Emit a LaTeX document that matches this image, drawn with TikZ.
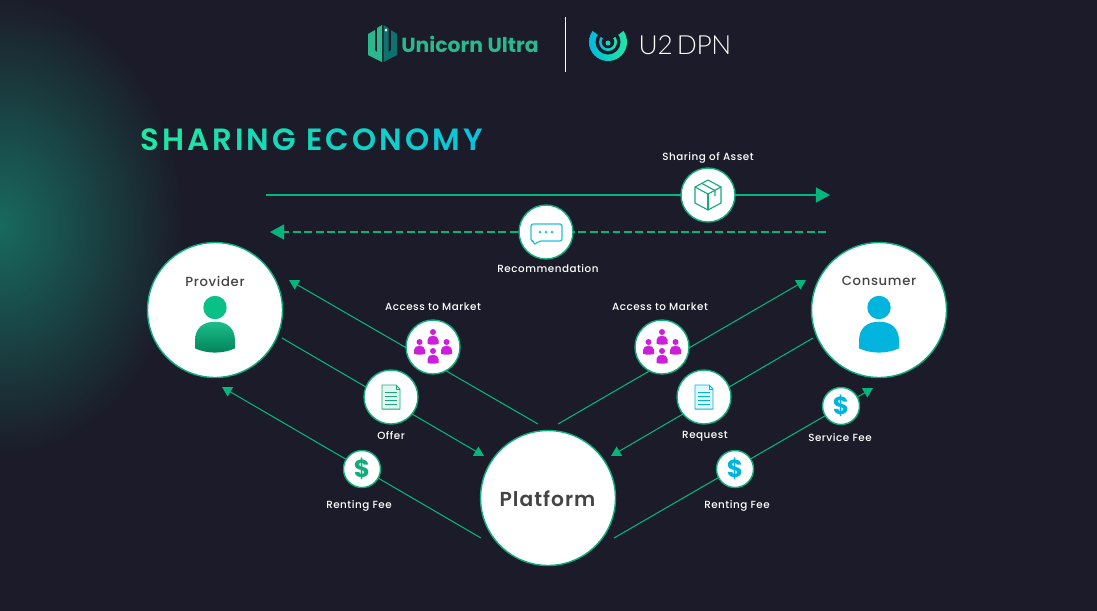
\documentclass[tikz,border=0pt]{standalone}
\usepackage{fontspec}
\usetikzlibrary{arrows.meta}
\setmainfont[LetterSpace=5,BoldFont={Poppins SemiBold}]{Poppins Medium}
\newfontfamily\titlefont{Poppins SemiBold}
\newfontfamily\thinfont[LetterSpace=-1.5]{Lato Light}
\newfontfamily\logofont{Poppins}

\definecolor{bgdark}{HTML}{1B1B29}
\definecolor{glowteal}{HTML}{186A5E}
\definecolor{flowgreen}{HTML}{03B77C}
\definecolor{ringgreen}{HTML}{0DAE7C}
\definecolor{logogreen}{HTML}{2BB88D}
\definecolor{logoteal}{HTML}{0E7270}
\definecolor{iconcyan}{HTML}{00B4DE}
\definecolor{icongreen}{HTML}{17A97D}
\definecolor{iconpink}{HTML}{CC1FDB}
\definecolor{titlea}{HTML}{1FE8A2}
\definecolor{titleb}{HTML}{09C4DC}
\definecolor{darktext}{HTML}{444444}

\pgfdeclareradialshading{leftglow}{\pgfpoint{0bp}{0bp}}{color(0bp)=(glowteal); color(25bp)=(bgdark); color(50bp)=(bgdark)}

\tikzset{
  bigcircle/.style={circle,draw=ringgreen,fill=white,line width=.8pt,minimum size=2.7cm,inner sep=0pt},
  midcircle/.style={circle,draw=ringgreen,fill=white,line width=.8pt,minimum size=1.08cm,inner sep=0pt},
  tinycircle/.style={circle,draw=ringgreen,fill=white,line width=.8pt,minimum size=.74cm,inner sep=0pt,font=\logofont\bfseries\fontsize{14}{14}\selectfont},
  lbl/.style={text=white,font=\fontsize{5.9}{7}\selectfont,inner sep=0pt},
  namelbl/.style={text=darktext,font=\fontsize{7.5}{9}\selectfont,inner sep=0pt},
  flow/.style={draw=flowgreen,line width=.6pt,-{Triangle[length=5.5pt,width=6pt]}},
  flowthick/.style={draw=flowgreen,line width=.95pt,-{Triangle[length=8pt,width=8.5pt]}},
  pics/docicon/.style={code={
    \draw[#1,line width=.55pt,fill=#1!12,line join=round] (-9,-12) -- (5,-12) -- (9,-8) -- (9,12) -- (-9,12) -- cycle;
    \draw[#1,line width=.5pt] (5,-12) -- (5,-8) -- (9,-8);
    \foreach \yy in {-5,-1,3,7} \draw[#1,line width=.5pt] (-6,\yy) -- (6,\yy);
  }},
  pics/smallperson/.style={code={
    \fill[iconpink] (0,0) circle[radius=.06cm];
    \fill[iconpink] (-5.5,11.8) -- (-5.5,8) .. controls (-5.5,5) and (-3,3.8) .. (0,3.8) .. controls (3,3.8) and (5.5,5) .. (5.5,8) -- (5.5,11.8) .. controls (2,13) and (-2,13) .. (-5.5,11.8) -- cycle;
  }}
}
\newcommand{\ltr}[2]{\textcolor{titleb!#1!titlea}{#2}\kern1.75pt\relax}

\begin{document}
\begin{tikzpicture}[x=0.02cm,y=-0.02cm]
\useasboundingbox (0,0) rectangle (1097,610);
\fill[bgdark] (-3,-3) rectangle (1100,613);
\begin{scope}
\clip (0,0) rectangle (1097,610);
\shade[shading=leftglow] (0,225) ellipse [x radius=3.7cm,y radius=4.6cm];
\end{scope}
%%%%%%%%%%%%%%%% logos
\fill[logogreen] (368,34) -- (375,30) -- (375,50) -- (377,52) -- (377,28) -- (382,25) -- (382,62) -- (368,55) -- cycle;
\fill[logoteal] (397,34) -- (391,30) -- (391,50) -- (388.5,52) -- (388.5,28) -- (383.5,25) -- (383.5,62) -- (397,55) -- cycle;
\fill[white] (386,30) circle[radius=.03cm];
\node[text=logogreen,font=\logofont\bfseries\fontsize{11.6}{12}\selectfont,inner sep=0pt] (unicorn) at (470,44) {Unicorn Ultra};
\draw[white,line width=.55pt] (565,17) -- (565,72);
\shade[left color=iconcyan!70!titleb,right color=titlea] (608,42) circle[radius=.38cm];
\fill[bgdark] (608,42) circle[radius=.25cm];
\fill[bgdark] (608,42) -- (586,26) -- (608,15) -- (630,26) -- cycle;
\shade[left color=iconcyan!70!titleb,right color=titlea] (608,42) circle[radius=.18cm];
\fill[bgdark] (608,42) circle[radius=.125cm];
\fill[bgdark] (608,42) -- (596,33) -- (620,33) -- cycle;
\fill[titlea!50!titleb] (608,43) circle[radius=.05cm];
\node[text=white,font=\thinfont\fontsize{15}{15}\selectfont,inner sep=0pt] (dpn) at (685,45) {U2\hspace{-.1em} DPN};
%%%%%%%%%%%%%%%% heading
\node[anchor=base west,font=\titlefont\fontsize{17.5}{18}\selectfont,inner sep=0pt] (heading) at (140,150) {\ltr{0}{S}\ltr{7}{H}\ltr{14}{A}\ltr{21}{R}\ltr{28}{I}\ltr{35}{N}\ltr{42}{G} \ltr{50}{E}\ltr{57}{C}\ltr{64}{O}\ltr{72}{N}\ltr{80}{O}\ltr{90}{M}\ltr{100}{Y}};
%%%%%%%%%%%%%%%% free ends of the connectors
\coordinate (assetfrom) at (266,195);
\coordinate (assetto) at (830,195);
\coordinate (recofrom) at (826,232);
\coordinate (recoto) at (270,232);
\coordinate (marketleftfrom) at (538,424);
\coordinate (marketleftto) at (289,280);
\coordinate (offerfrom) at (282,338);
\coordinate (offerto) at (484,456);
\coordinate (feeleftfrom) at (481,538);
\coordinate (feeleftto) at (222,387);
\coordinate (marketrightfrom) at (558,424);
\coordinate (marketrightto) at (806,280);
\coordinate (requestfrom) at (813,338);
\coordinate (requestto) at (611,456);
\coordinate (feerightfrom) at (614,538);
\coordinate (feerightto) at (873,388);
%%%%%%%%%%%%%%%% connectors
\draw[flowthick] (assetfrom) -- (assetto);
\draw[flowthick,dash pattern=on 4.5pt off 2pt] (recofrom) -- (recoto);
\draw[flow] (marketleftfrom) -- (marketleftto);
\draw[flow] (offerfrom) -- (offerto);
\draw[flow] (feeleftfrom) -- (feeleftto);
\draw[flow] (marketrightfrom) -- (marketrightto);
\draw[flow] (requestfrom) -- (requestto);
\draw[flow] (feerightfrom) -- (feerightto);
%%%%%%%%%%%%%%%% big circles
\node[bigcircle] (provider) at (215,310) {};
\node[namelbl] (providername) at (215,281) {Provider};
\fill[flowgreen!80!titlea] (215,307.5) circle[radius=.234cm];
\shade[top color=flowgreen!90!white,bottom color=flowgreen!70!black] (195,348.3) -- (195,341) .. controls (195,328) and (203,321.7) .. (215,321.7) .. controls (227,321.7) and (235,328) .. (235,341) -- (235,348.3) .. controls (223,354) and (207,354) .. (195,348.3) -- cycle;
\node[bigcircle] (consumer) at (879,310) {};
\node[namelbl] (consumername) at (879,281) {Consumer};
\fill[iconcyan] (879,307.5) circle[radius=.234cm];
\fill[iconcyan] (859,348.3) -- (859,341) .. controls (859,328) and (867,321.7) .. (879,321.7) .. controls (891,321.7) and (899,328) .. (899,341) -- (899,348.3) .. controls (887,354) and (871,354) .. (859,348.3) -- cycle;
\node[bigcircle] (platform) at (548,498) {};
\node[text=darktext,font=\bfseries\fontsize{11.5}{12}\selectfont,inner sep=0pt] (platformname) at (547.5,499) {Platform};
%%%%%%%%%%%%%%%% asset and recommendation
\node[midcircle] (asset) at (708,195) {};
\begin{scope}[shift={(708,195)},draw=icongreen,line width=.65pt,line join=round]
\draw (0,-15) -- (13,-8) -- (13,8) -- (0,15) -- (-13,8) -- (-13,-8) -- cycle;
\draw (-13,-8) -- (0,-1) -- (13,-8);
\draw (0,-1) -- (0,15);
\draw (-6,-11.5) -- (7,-4.5) -- (7,1);
\end{scope}
\node[lbl] (assetlbl) at (708,158) {Sharing of Asset};
\node[midcircle] (reco) at (546,232) {};
\draw[iconcyan!85!white,line width=.7pt,rounded corners=1.2pt,line join=round] (531,224) -- (562,224) -- (562,241) -- (539,241) -- (534,245) -- (534,241) -- (531,241) -- cycle;
\foreach \xx in {540,546,552} \fill[iconcyan!85!white] (\xx,232) circle[radius=.03cm];
\node[lbl] (recolbl) at (548,269) {Recommendation};
%%%%%%%%%%%%%%%% access to market
\node[midcircle] (marketleft) at (433,347) {};
\pic at (433,332) {smallperson};
\pic at (419.5,342) {smallperson};
\pic at (446.5,342) {smallperson};
\pic at (433,351) {smallperson};
\node[lbl] (marketleftlbl) at (433,307) {Access to Market};
\node[midcircle] (marketright) at (662,347) {};
\pic at (662,332) {smallperson};
\pic at (648.5,342) {smallperson};
\pic at (675.5,342) {smallperson};
\pic at (662,351) {smallperson};
\node[lbl] (marketrightlbl) at (660,307) {Access to Market};
%%%%%%%%%%%%%%%% offer and request
\node[midcircle] (offer) at (391,397) {};
\pic at (391,397) {docicon=icongreen};
\node[lbl] (offerlbl) at (391,436) {Offer};
\node[midcircle] (request) at (704,397) {};
\pic at (704,397) {docicon=iconcyan};
\node[lbl] (requestlbl) at (705,436) {Request};
%%%%%%%%%%%%%%%% fees
\node[tinycircle,text=icongreen] (feeleft) at (362,469) {\$};
\node[lbl] (feeleftlbl) at (359,506) {Renting Fee};
\node[tinycircle,text=iconcyan] (feeright) at (735,469) {\$};
\node[lbl] (feerightlbl) at (737,506) {Renting Fee};
\node[tinycircle,text=iconcyan] (service) at (841,406) {\$};
\node[lbl] (servicelbl) at (840,438) {Service Fee};
\end{tikzpicture}
\end{document}
